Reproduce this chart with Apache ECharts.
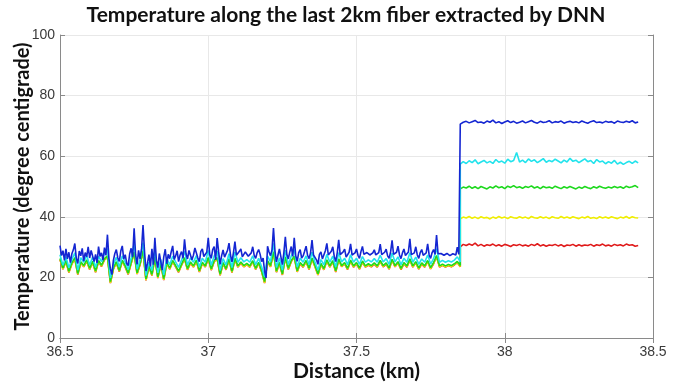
<!DOCTYPE html>
<html>
<head>
<meta charset="utf-8">
<script src="https://cdn.jsdelivr.net/npm/echarts@6/dist/echarts.min.js"></script>
<style>
  html, body { margin: 0; padding: 0; background: #fff; }
  #chart { width: 692px; height: 388px; }
</style>
</head>
<body>
<div id="chart"></div>
<script>
// sampling along the fiber: before the hot section (36.50 - 37.85) and inside it (37.85 - 38.45)
const preStart = 36.5
const postStart = 37.85
const step = 0.01
const bluePreStep = 0.005

const xTicks = [36.5, 37, 37.5, 38, 38.5]
const yTicks = [0, 20, 40, 60, 80, 100]

const seriesNames = ['red', 'yellow', 'green', 'cyan', 'blue']
const seriesColors = ['#e01a1a', '#f0ee00', '#1ed81e', '#22e3ec', '#1426d2']

const redPre = [
  25.8, 22.7, 25.2, 21.6, 24.4, 26.1, 20.9, 24.8, 23.5, 25.4,
  22.6, 24.9, 21.7, 25.2, 23.6, 25.8, 26.7, 18.1, 22.7, 24.8,
  21.9, 25.3, 23.4, 21.0, 24.6, 28.0, 21.1, 24.2, 28.5, 19.0,
  23.4, 20.6, 26.3, 19.8, 24.2, 19.1, 24.6, 22.7, 25.2, 23.5,
  21.7, 24.0, 26.1, 22.5, 24.7, 23.4, 25.3, 21.8, 24.6, 23.4,
  26.2, 22.4, 25.2, 26.1, 20.7, 24.5, 22.5, 25.8, 21.6, 25.9,
  23.4, 24.7, 23.5, 24.2, 23.4, 25.1, 22.6, 24.6, 21.9, 18.1,
  25.1, 23.5, 28.1, 21.7, 24.6, 20.8, 26.4, 22.6, 25.2, 26.6,
  21.8, 24.5, 23.4, 25.2, 22.6, 26.0, 23.5, 20.8, 24.2, 22.5,
  25.4, 23.4, 25.1, 21.8, 25.7, 23.5, 24.5, 22.6, 25.3, 23.4,
  24.5, 22.7, 25.0, 23.4, 24.1, 23.5, 24.4, 23.4, 25.2, 23.5,
  24.4, 22.7, 25.6, 23.5, 24.8, 22.6, 24.5, 23.4, 25.7, 23.4,
  24.8, 22.7, 24.4, 23.4, 25.2, 22.8, 24.5, 26.8, 23.4, 24.0,
  23.4, 23.9, 23.5, 24.1, 24.9, 23.5
]
const yellowPre = [
  25.9, 22.8, 25.3, 21.7, 24.5, 26.2, 21.0, 24.9, 23.6, 25.5,
  22.7, 25.0, 21.8, 25.3, 23.7, 25.9, 26.8, 18.2, 22.8, 24.9,
  22.0, 25.4, 23.5, 21.1, 24.7, 28.1, 21.2, 24.3, 28.6, 19.1,
  23.5, 20.7, 26.4, 19.9, 24.3, 19.2, 24.7, 22.8, 25.3, 23.6,
  21.8, 24.1, 26.2, 22.6, 24.8, 23.5, 25.4, 21.9, 24.7, 23.5,
  26.3, 22.5, 25.3, 26.2, 20.8, 24.6, 22.6, 25.9, 21.7, 26.0,
  23.5, 24.8, 23.6, 24.3, 23.5, 25.2, 22.7, 24.7, 22.0, 18.2,
  25.2, 23.6, 28.2, 21.8, 24.7, 20.9, 26.5, 22.7, 25.3, 26.7,
  21.9, 24.6, 23.5, 25.3, 22.7, 26.1, 23.6, 20.9, 24.3, 22.6,
  25.5, 23.5, 25.2, 21.9, 25.8, 23.6, 24.6, 22.7, 25.4, 23.5,
  24.6, 22.8, 25.1, 23.5, 24.2, 23.6, 24.5, 23.5, 25.3, 23.6,
  24.5, 22.8, 25.7, 23.6, 24.9, 22.7, 24.6, 23.5, 25.8, 23.5,
  24.9, 22.8, 24.5, 23.5, 25.3, 22.9, 24.6, 26.9, 23.5, 24.1,
  23.5, 24.0, 23.6, 24.2, 25.0, 23.6
]
const greenPre = [
  26.2, 23.1, 25.6, 22.0, 24.8, 26.5, 21.3, 25.2, 23.9, 25.8,
  23.0, 25.3, 22.1, 25.6, 24.0, 26.2, 27.1, 18.6, 23.1, 25.2,
  22.3, 25.7, 23.8, 21.4, 25.0, 28.4, 21.5, 24.6, 28.9, 19.5,
  23.8, 21.0, 26.7, 20.2, 24.6, 19.6, 25.0, 23.1, 25.6, 23.9,
  22.1, 24.4, 26.5, 22.9, 25.1, 23.8, 25.7, 22.2, 25.0, 23.8,
  26.6, 22.8, 25.6, 26.5, 21.1, 24.9, 22.9, 26.2, 22.0, 26.3,
  23.8, 25.1, 23.9, 24.6, 23.8, 25.5, 23.0, 25.0, 22.3, 18.6,
  25.5, 23.9, 28.5, 22.1, 25.0, 21.2, 26.8, 23.0, 25.6, 27.0,
  22.2, 24.9, 23.8, 25.6, 23.0, 26.4, 23.9, 21.2, 24.6, 22.9,
  25.8, 23.8, 25.5, 22.2, 26.1, 23.9, 24.9, 23.0, 25.7, 23.8,
  24.9, 23.1, 25.4, 23.8, 24.5, 23.9, 24.8, 23.8, 25.6, 23.9,
  24.8, 23.1, 26.0, 23.9, 25.2, 23.0, 24.9, 23.8, 26.1, 23.8,
  25.2, 23.1, 24.8, 23.8, 25.6, 23.2, 24.9, 27.2, 23.8, 24.4,
  23.8, 24.3, 23.9, 24.5, 25.3, 23.9
]
const cyanPre = [
  27.5, 24.0, 26.8, 23.2, 25.9, 28.1, 22.4, 26.5, 25.0, 27.2,
  24.1, 26.7, 23.3, 27.0, 25.2, 27.9, 29.5, 19.8, 24.3, 26.6,
  23.4, 27.1, 25.0, 22.6, 26.4, 31.0, 22.7, 25.8, 31.5, 20.6,
  25.0, 22.3, 28.9, 21.5, 25.9, 20.8, 26.3, 24.2, 27.0, 25.1,
  23.3, 25.7, 28.6, 24.1, 26.4, 25.0, 27.2, 23.4, 26.3, 25.0,
  28.9, 24.0, 27.1, 28.7, 22.3, 26.2, 24.1, 27.8, 23.2, 28.4,
  25.0, 26.5, 25.1, 25.9, 25.0, 27.1, 24.2, 26.3, 23.5, 20.2,
  27.0, 25.1, 31.2, 23.3, 26.4, 22.4, 29.0, 24.2, 27.1, 29.2,
  23.4, 26.3, 25.0, 27.1, 24.2, 28.3, 25.1, 22.4, 25.9, 24.1,
  27.6, 25.0, 27.0, 23.4, 28.2, 25.1, 26.3, 24.2, 27.5, 25.0,
  26.3, 24.3, 26.9, 25.0, 25.8, 25.1, 26.2, 25.0, 27.3, 25.1,
  26.2, 24.3, 28.0, 25.1, 26.8, 24.2, 26.3, 25.0, 28.1, 25.0,
  26.7, 24.3, 26.1, 25.0, 27.4, 24.4, 26.2, 29.5, 25.0, 25.6,
  25.0, 25.5, 25.1, 25.7, 26.8, 25.1
]
// blue is read at twice the density (every 5 m)
const bluePre = [
  30.5, 27.2, 28.8, 25.6, 29.4, 26.1, 28.3, 24.9, 27.8, 29.1,
  31.2, 26.3, 24.6, 28.7, 27.1, 29.6, 25.4, 28.2, 26.8, 30.1,
  26.4, 28.9, 29.5, 25.2, 27.6, 24.8, 30.2, 26.9, 28.1, 25.7,
  29.8, 27.3, 34.1, 26.2, 22.8, 20.9, 25.6, 27.9, 29.2, 26.4,
  25.3, 28.7, 30.4, 26.1, 27.5, 24.6, 23.9, 27.8, 29.6, 26.7,
  36.2, 27.4, 24.3, 28.9, 26.1, 29.3, 37.3, 28.6, 22.1, 24.7,
  27.5, 23.6, 29.4, 24.2, 33.1, 25.7, 23.2, 27.9, 28.3, 22.4,
  26.8, 29.3, 24.5, 27.6, 26.2, 28.4, 30.4, 25.9, 27.1, 28.8,
  25.2, 27.4, 28.5, 26.3, 32.6, 27.8, 26.1, 28.9, 29.2, 25.8,
  27.3, 29.7, 30.1, 26.4, 25.2, 28.6, 29.4, 26.9, 27.2, 28.3,
  33.1, 27.6, 26.3, 29.2, 30.2, 25.8, 33.0, 28.4, 24.3, 27.1,
  29.1, 26.7, 26.2, 28.9, 31.3, 27.4, 25.1, 28.2, 31.8, 27.3,
  27.2, 28.6, 29.4, 26.8, 27.1, 28.4, 28.3, 27.0, 27.2, 28.1,
  30.1, 27.3, 26.3, 28.2, 29.2, 27.6, 25.2, 26.4, 22.1, 19.8,
  30.3, 28.4, 27.2, 29.1, 36.3, 28.7, 25.1, 27.3, 29.4, 26.8,
  24.2, 28.1, 33.4, 27.6, 26.1, 28.4, 30.2, 26.9, 33.1, 27.2,
  25.3, 28.2, 29.2, 26.4, 27.1, 28.6, 30.3, 27.3, 26.2, 28.1,
  32.3, 27.4, 27.2, 25.8, 24.3, 27.6, 28.4, 26.1, 26.1, 28.8,
  31.2, 27.4, 27.3, 28.6, 30.1, 26.9, 25.2, 28.1, 32.4, 27.5,
  27.1, 28.4, 29.3, 26.7, 26.2, 28.3, 31.1, 27.4, 27.2, 28.1,
  29.4, 27.3, 26.3, 28.5, 30.2, 27.6, 27.1, 28.2, 28.3, 27.4,
  27.2, 28.1, 29.1, 27.4, 27.3, 28.2, 31.0, 27.5, 27.2, 28.3,
  29.3, 27.1, 26.3, 28.4, 32.2, 27.6, 27.1, 28.3, 30.3, 27.4,
  26.2, 28.1, 29.4, 27.2, 27.1, 28.4, 32.7, 27.5, 27.2, 28.1,
  30.1, 27.4, 26.3, 28.2, 29.2, 27.3, 27.1, 28.1, 31.1, 27.4,
  26.3, 28.2, 29.2, 27.6, 34.0, 27.8, 27.2, 27.9, 28.1, 27.3,
  27.3, 27.9, 28.0, 27.2, 27.2, 27.8, 28.2, 27.4, 30.0, 27.6,
  27.3
]

const redPost = [
  30.1, 30.9, 30.5, 31.0, 30.6, 31.3, 30.4, 30.9, 30.3, 30.8,
  30.5, 31.0, 30.4, 30.8, 30.3, 30.9, 30.6, 30.2, 30.8, 30.5,
  30.9, 30.4, 30.7, 30.3, 30.9, 30.5, 31.1, 30.4, 30.8, 30.3,
  30.7, 30.5, 30.9, 30.4, 30.8, 30.2, 30.7, 30.5, 30.9, 30.3,
  30.8, 30.4, 30.7, 30.5, 30.9, 30.3, 30.8, 30.5, 31.0, 30.4,
  30.7, 30.3, 30.9, 30.5, 30.8, 30.4, 31.0, 30.6, 30.8, 30.3,
  30.5
]
const yellowPost = [
  39.3, 39.9, 39.6, 40.1, 39.5, 39.9, 39.4, 40.0, 39.6, 39.8,
  39.3, 39.9, 39.5, 40.1, 39.6, 39.9, 39.4, 40.0, 39.7, 39.5,
  40.0, 39.6, 39.9, 39.4, 40.1, 39.7, 39.5, 40.0, 39.6, 39.9,
  39.4, 40.0, 39.7, 39.5, 40.1, 39.6, 39.9, 39.5, 40.0, 39.7,
  39.4, 39.9, 39.6, 40.1, 39.5, 39.8, 39.4, 40.0, 39.6, 39.9,
  39.5, 40.0, 39.7, 39.4, 39.9, 39.6, 40.1, 39.5, 40.0, 39.7,
  39.6
]
const greenPost = [
  49.2, 49.8, 49.5, 50.1, 49.4, 49.9, 49.3, 50.0, 49.6, 49.2,
  49.9, 49.5, 50.2, 49.6, 49.9, 49.3, 50.1, 49.7, 50.3, 49.6,
  49.9, 49.4, 50.0, 49.7, 50.2, 49.5, 49.9, 49.3, 50.0, 49.6,
  49.8, 49.4, 50.1, 49.7, 49.3, 49.9, 49.5, 50.0, 49.6, 49.2,
  49.8, 49.4, 50.0, 49.6, 49.3, 49.9, 49.5, 50.1, 49.7, 49.4,
  49.8, 49.5, 50.0, 49.6, 49.9, 49.4, 50.1, 49.7, 49.9, 50.3,
  49.6
]
const cyanPost = [
  57.4, 58.2, 57.6, 58.5, 57.9, 58.8, 57.5, 58.1, 58.6, 57.8,
  58.3, 57.6, 58.9, 58.0, 58.4, 57.7, 59.0, 58.2, 58.6, 61.2,
  58.1, 58.7, 57.9, 59.1, 58.3, 58.8, 57.9, 58.5, 59.2, 58.0,
  58.6, 58.2, 59.0, 58.4, 57.8, 58.7, 58.1, 59.3, 58.3, 58.7,
  57.9, 58.5, 59.1, 58.2, 58.6, 57.6, 58.9, 58.1, 58.4, 57.5,
  58.2, 57.7, 58.6, 57.4, 58.0, 57.3, 57.9, 58.3, 57.6, 58.4,
  57.8
]
const bluePost = [
  70.6, 71.2, 71.5, 71.0, 71.4, 71.8, 71.1, 71.3, 70.9, 71.6,
  71.2, 71.9, 71.0, 71.4, 70.8, 71.3, 71.7, 71.1, 71.5, 70.9,
  71.2, 71.6, 71.0, 71.4, 71.8, 71.2, 70.9, 71.5, 71.1, 71.3,
  71.7, 71.0, 71.4, 71.2, 71.6, 70.9, 71.3, 71.5, 71.1, 71.4,
  71.0, 71.6, 71.2, 70.9, 71.4, 71.7, 71.1, 71.3, 71.0, 71.5,
  71.2, 71.4, 70.9, 71.6, 71.3, 71.1, 71.5, 71.2, 71.7, 71.0,
  71.3
]

const preValues = [redPre, yellowPre, greenPre, cyanPre, bluePre]
const preSteps = [step, step, step, step, bluePreStep]
const postValues = [redPost, yellowPost, greenPost, cyanPost, bluePost]

// pair each reading with its distance along the fiber
const toPoints = (pre, preStep, post) => [
  ...pre.map((v, i) => [+(preStart + i * preStep).toFixed(3), v]),
  ...post.map((v, i) => [+(postStart + i * step).toFixed(3), v])
]

const chart = echarts.init(document.getElementById('chart'))

const tickFont = { fontFamily: 'Liberation Sans', fontSize: 14, color: '#3a3a3a' }
const nameFont = { fontFamily: 'Lato', fontWeight: 'bold', color: '#111' }
const boxLine = { show: true, lineStyle: { color: '#8a8a8a', width: 1 } }
const gridLine = { show: true, lineStyle: { color: '#e8e8e8', width: 1 } }
const innerTick = { show: true, inside: true, length: 5, lineStyle: { color: '#8a8a8a' } }

const option = {
  animation: false,
  backgroundColor: '#fff',
  title: {
    text: 'Temperature along the last 2km fiber extracted by DNN',
    left: 'center',
    top: 0,
    textStyle: { fontFamily: 'Lato', fontWeight: 'bold', fontSize: 21, color: '#111' }
  },
  grid: { left: 60, right: 39, top: 35, bottom: 50, outerBoundsMode: 'none' },
  xAxis: [
    {
      type: 'value',
      min: xTicks[0],
      max: xTicks[xTicks.length - 1],
      interval: 0.5,
      name: 'Distance (km)',
      nameLocation: 'middle',
      nameGap: 23,
      nameMoveOverlap: false,
      nameTextStyle: { ...nameFont, fontSize: 21 },
      axisLine: boxLine,
      axisTick: innerTick,
      axisLabel: { ...tickFont, margin: 7 },
      splitLine: gridLine
    },
    {
      type: 'value',
      position: 'top',
      min: xTicks[0],
      max: xTicks[xTicks.length - 1],
      interval: 0.5,
      axisLine: boxLine,
      axisTick: innerTick,
      axisLabel: { show: false },
      splitLine: { show: false }
    }
  ],
  yAxis: [
    {
      type: 'value',
      min: yTicks[0],
      max: yTicks[yTicks.length - 1],
      interval: 20,
      name: 'Temperature (degree centigrade)',
      nameLocation: 'middle',
      nameGap: 27,
      nameMoveOverlap: false,
      nameTextStyle: { ...nameFont, fontSize: 20 },
      axisLine: boxLine,
      axisTick: innerTick,
      axisLabel: { ...tickFont, margin: 5 },
      splitLine: gridLine
    },
    {
      type: 'value',
      position: 'right',
      min: yTicks[0],
      max: yTicks[yTicks.length - 1],
      interval: 20,
      axisLine: boxLine,
      axisTick: innerTick,
      axisLabel: { show: false },
      splitLine: { show: false }
    }
  ],
  series: seriesNames.map((name, k) => ({
    name: name,
    type: 'line',
    xAxisIndex: 0,
    yAxisIndex: 0,
    data: toPoints(preValues[k], preSteps[k], postValues[k]),
    showSymbol: false,
    symbol: 'none',
    lineStyle: { color: seriesColors[k], width: 1.6 },
    itemStyle: { color: seriesColors[k] },
    z: 2 + k
  }))
}

chart.setOption(option)
</script>
</body>
</html>
